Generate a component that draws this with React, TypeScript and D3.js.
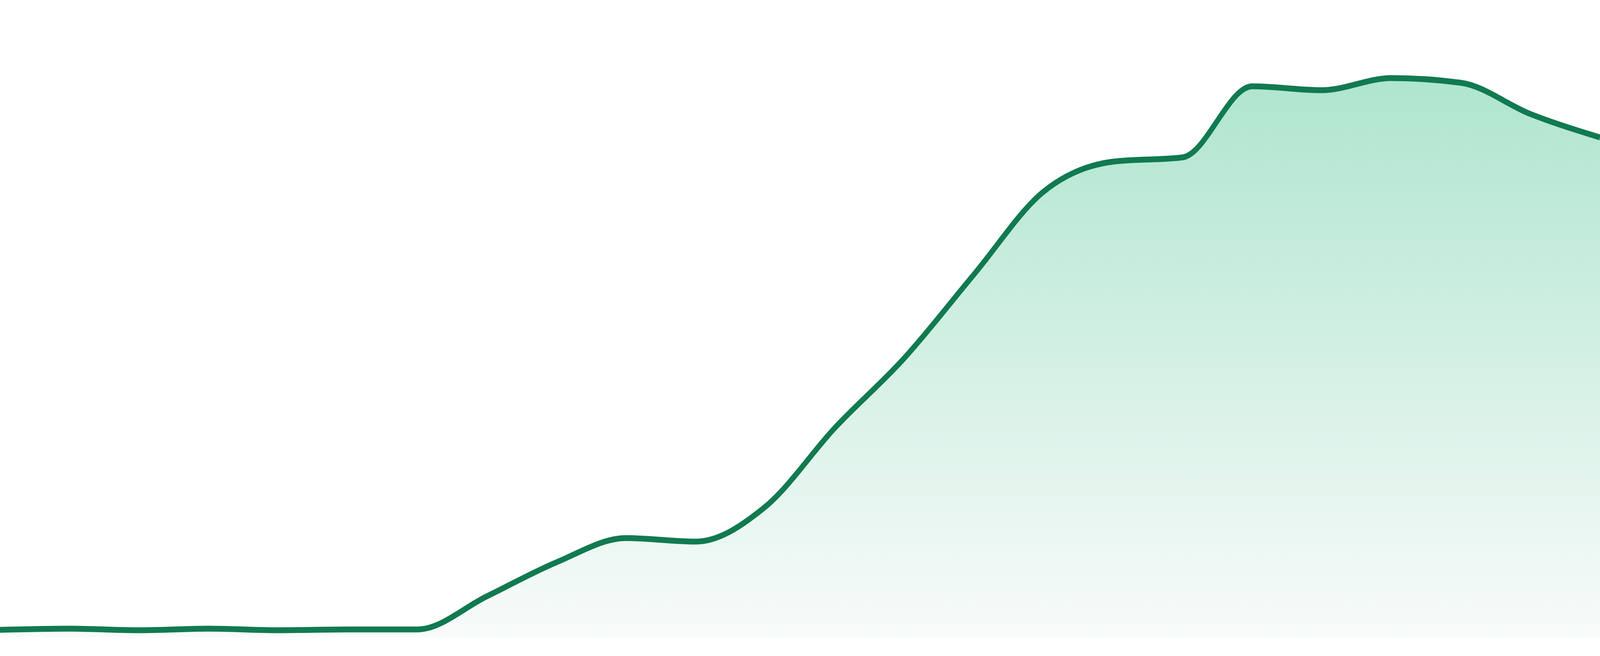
import React, { useEffect, useRef } from 'react';
import * as d3 from 'd3';

// one point per day
const days = [
  'D1', 'D2', 'D3', 'D4', 'D5', 'D6', 'D7', 'D8', 'D9', 'D10', 'D11', 'D12',
  'D13', 'D14', 'D15', 'D16', 'D17', 'D18', 'D19', 'D20', 'D21', 'D22', 'D23', 'D24',
];

const values = [
  19, 22, 18, 22, 18, 20, 20, 105, 192, 254, 245, 334,
  536, 715, 929, 1141, 1218, 1229, 1411, 1401, 1432, 1420, 1340, 1280,
];

const yDomain = [0, 1600];

const WIDTH = 4800;
const HEIGHT = 1680;

const App: React.FC = () => {
  const svgRef = useRef<SVGSVGElement>(null);

  useEffect(() => {
    if (!svgRef.current) return;
    document.body.style.margin = '0';
    document.body.style.overflow = 'hidden';

    const svg = d3.select(svgRef.current);
    svg.selectAll('*').remove();

    const margin = { top: 32, right: 0, bottom: 48, left: 0 };
    const innerBottom = HEIGHT - margin.bottom;

    const x = d3.scalePoint<string>()
      .domain(days)
      .range([margin.left, WIDTH - margin.right]);

    const y = d3.scaleLinear()
      .domain(yDomain)
      .range([innerBottom, margin.top]);

    const data = days.map((d, i) => ({ day: d, value: values[i] }));

    const defs = svg.append('defs');
    const grad = defs.append('linearGradient')
      .attr('id', 'areaFill')
      .attr('x1', 0).attr('y1', 0)
      .attr('x2', 0).attr('y2', 1);
    grad.append('stop').attr('offset', '0%').attr('stop-color', '#afe5cf');
    grad.append('stop').attr('offset', '100%').attr('stop-color', '#f8fbfa');

    const area = d3.area<{ day: string; value: number }>()
      .x(d => x(d.day) as number)
      .y0(innerBottom)
      .y1(d => y(d.value))
      .curve(d3.curveMonotoneX);

    const line = d3.line<{ day: string; value: number }>()
      .x(d => x(d.day) as number)
      .y(d => y(d.value))
      .curve(d3.curveMonotoneX);

    svg.append('path')
      .datum(data)
      .attr('d', area)
      .attr('fill', 'url(#areaFill)');

    svg.append('path')
      .datum(data)
      .attr('d', line)
      .attr('fill', 'none')
      .attr('stroke', '#117a50')
      .attr('stroke-width', 15)
      .attr('stroke-linejoin', 'round');
  }, []);

  return (
    <svg
      ref={svgRef}
      viewBox={`0 0 ${WIDTH} ${HEIGHT}`}
      preserveAspectRatio="none"
      style={{
        position: 'fixed',
        left: 0,
        top: 0,
        width: '100vw',
        height: '100vh',
        display: 'block',
        background: '#ffffff',
      }}
    />
  );
};

export default App;
